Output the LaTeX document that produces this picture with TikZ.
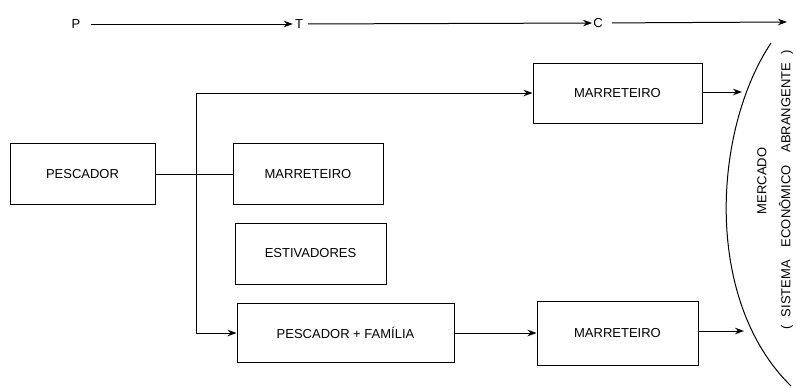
\documentclass[tikz,border=0pt]{standalone}
\usepackage{fontspec}
\setmainfont{Liberation Sans}
\usetikzlibrary{arrows.meta}
\begin{document}
\begin{tikzpicture}[x=1pt,y=-1pt,
  box/.style={draw,line width=1pt,inner sep=0pt,font=\fontsize{13}{15}\selectfont},
  lbl/.style={inner sep=1pt,font=\fontsize{13}{15}\selectfont},
  conn/.style={line width=1pt},
  arr/.style={line width=1pt,-{Stealth[length=9pt,width=6.5pt]}}]
\useasboundingbox (0,0) rectangle (796,388);
% top row
\node[lbl] (p) at (76,24) {P};
\node[lbl] (t) at (299,24) {T};
\node[lbl] (c) at (598,23) {C};
\coordinate (cend) at (787,22);
\draw[arr,shorten <=9pt,shorten >=1pt] (p) -- (t);
\draw[arr,shorten <=4pt] (t) -- (c);
\draw[arr,shorten <=8pt] (c) -- (cend);
% boxes
\node[box,minimum width=145pt,minimum height=61pt] (pesc) at (82.5,174) {PESCADOR};
\node[box,minimum width=150pt,minimum height=61pt] (marm) at (308,174) {MARRETEIRO};
\node[box,minimum width=169pt,minimum height=60pt] (mart) at (617.5,93) {MARRETEIRO};
\node[box,minimum width=151pt,minimum height=61pt] (est) at (310.5,253.5) {ESTIVADORES};
\node[box,minimum width=217pt,minimum height=59pt] (pf) at (345.5,333) {PESCADOR + FAMÍLIA};
\node[box,minimum width=161pt,minimum height=64pt] (marb) at (617.5,333) {MARRETEIRO};
% connectors
\coordinate (j) at (196,174);
\draw[conn] (pesc) -- (marm);
\draw[arr] (j) |- (mart.west);
\draw[arr] (j) |- (pf.west);
\draw[arr] (pf) -- (marb);
\coordinate (ot) at (742,92);
\coordinate (ob) at (744,331);
\draw[arr] (mart.east |- ot) -- (ot);
\draw[arr] (marb.east |- ob) -- (ob);
% market arc
\coordinate (a1) at (771,43);
\coordinate (a2) at (791,386);
\draw[line width=1pt] (a1) .. controls (713,130) and (703,300) .. (a2);
\node[lbl,rotate=90] (merc) at (762,181) {MERCADO};
\node[lbl,rotate=90] (sist) at (786,190) {(\hspace{8pt}SISTEMA\hspace{13pt}ECONÔMICO\hspace{13pt}ABRANGENTE\hspace{8pt})};
\end{tikzpicture}
\end{document}
